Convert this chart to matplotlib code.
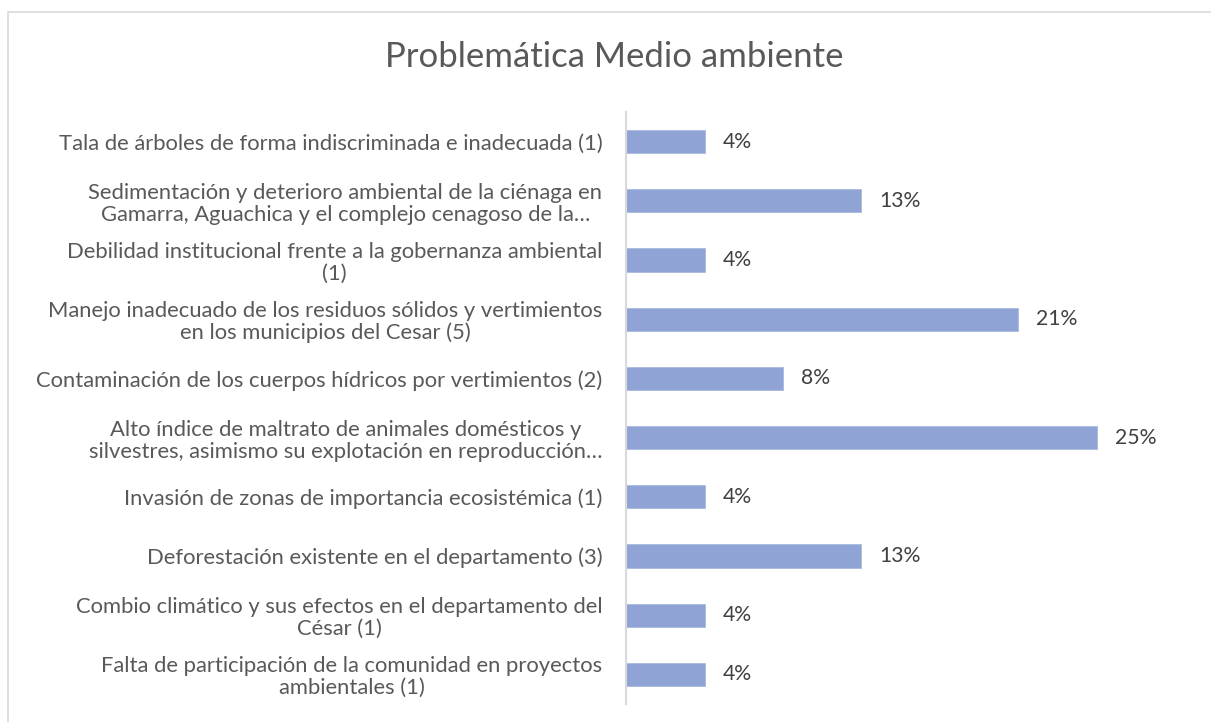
import matplotlib
matplotlib.use("Agg")
import matplotlib.pyplot as plt
from matplotlib.patches import Rectangle

title = "Problemática Medio ambiente"
categories = [
    "Tala de árboles de forma indiscriminada e inadecuada (1)",
    "Sedimentación y deterioro ambiental de la ciénaga en\nGamarra, Aguachica y el complejo cenagoso de la…",
    "Debilidad institucional frente a la gobernanza ambiental\n(1)",
    "Manejo inadecuado de los residuos sólidos y vertimientos\nen los municipios del Cesar (5)",
    "Contaminación de los cuerpos hídricos por vertimientos (2)",
    "Alto índice de maltrato de animales domésticos y\nsilvestres, asimismo su explotación en reproducción…",
    "Invasión de zonas de importancia ecosistémica (1)",
    "Deforestación existente en el departamento (3)",
    "Combio climático y sus efectos en el departamento del\nCésar (1)",
    "Falta de participación de la comunidad en proyectos\nambientales (1)",
]
values = [4.17, 12.5, 4.17, 20.83, 8.33, 25.0, 4.17, 12.5, 4.17, 4.17]
value_labels = ["4%", "13%", "4%", "21%", "8%", "25%", "4%", "13%", "4%", "4%"]

plt.rcParams['font.family'] = ['Lato', 'DejaVu Sans']
W, H = 1211, 722
fig = plt.figure(figsize=(W / 100, H / 100), dpi=100)

# outer chart frame
fig.patches.append(Rectangle((8 / W, -0.05), 1.2, 1 - 12 / H + 0.05, transform=fig.transFigure,
                             fill=False, edgecolor='#d9d9d9', linewidth=1.2))

ax = fig.add_axes([626 / W, 1 - 704 / H, 565 / W, 592 / H])
y = list(range(len(categories)))
ax.barh(y, values, height=0.39, color='#8FA3D4', edgecolor='#a9b9e0', linewidth=0.6)
ax.set_ylim(len(categories) - 0.5, -0.5)
ax.set_xlim(0, 30)
ax.set_yticks(y)
ax.set_yticklabels(categories, fontsize=15.8, color='#595959', multialignment='center',
                   linespacing=1.12)
ax.tick_params(axis='y', length=0, pad=17)
ax.set_xticks([])
for s in ['top', 'right', 'bottom']:
    ax.spines[s].set_visible(False)
ax.spines['left'].set_color('#d9d9d9')
ax.spines['left'].set_linewidth(1.5)

for yi, v, lab in zip(y, values, value_labels):
    ax.annotate(lab, (v, yi), xytext=(18, 0), textcoords='offset pixels',
                va='center', ha='left', fontsize=15.2, color='#404040')

fig.text(614 / W, 1 - 57 / H, title, ha='center', va='center', fontsize=25, color='#595959')

fig.savefig("out.png", dpi=100)
